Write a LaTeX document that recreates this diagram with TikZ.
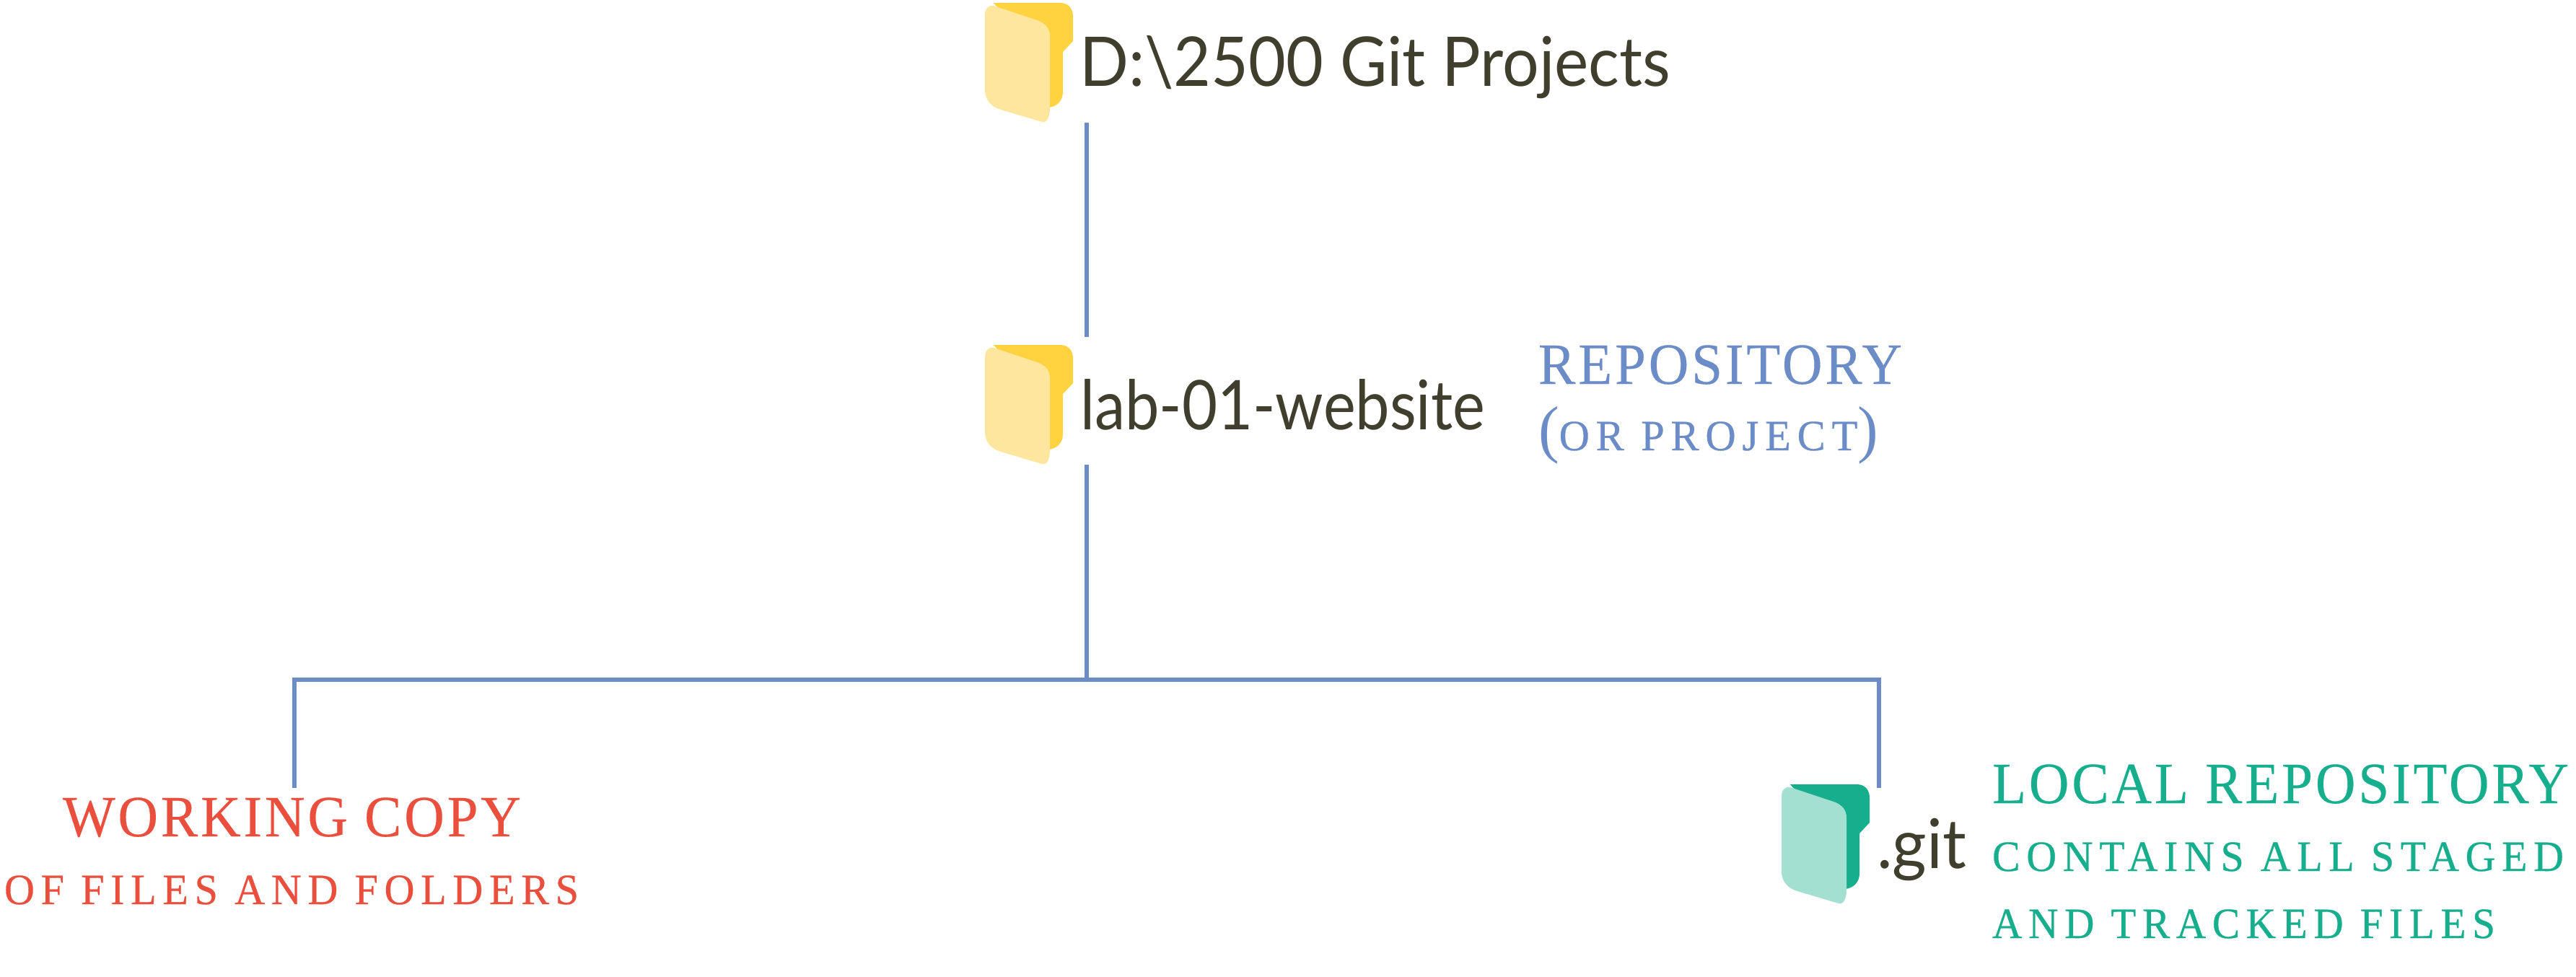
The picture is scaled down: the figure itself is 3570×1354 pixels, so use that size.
\documentclass[tikz,border=0pt]{standalone}
\usepackage{graphicx}
\usepackage{fontspec}
\setmainfont{Lato}
\newfontfamily\capserif[LetterSpace=5,FakeBold=0.25]{Liberation Serif}
\newfontfamily\smallserif[LetterSpace=15,FakeBold=0.5]{Liberation Serif}
\newfontfamily\parenserif{Liberation Serif}
\definecolor{lineblue}{HTML}{6C8CC8}
\definecolor{inkdark}{HTML}{403F2D}
\definecolor{redtext}{HTML}{EA4F3D}
\definecolor{tealdark}{HTML}{17AE8D}
\definecolor{teallight}{HTML}{A3E0D2}
\definecolor{yellowdark}{HTML}{FFD23F}
\definecolor{yellowlight}{HTML}{FFE69F}
\newcommand{\fitw}[2]{\resizebox{#1}{\height}{#2}}
\tikzset{
  x=0.5pt,y=-0.5pt,
  connector/.style={draw=lineblue,line width=2.75pt},
  label base/.style={anchor=base west,inner sep=0pt,outer sep=0pt},
  folder name/.style={label base,text=inkdark,font=\fontsize{47.5}{47.5}\selectfont},
  big caps/.style={label base,font=\capserif\fontsize{40.5}{40.5}\selectfont},
  small caps text/.style={label base,font=\smallserif\fontsize{30}{30}\selectfont},
  pics/folder/.style n args={2}{code={
    \fill[#1] (12,4) -- (104,4) .. controls (116,4) and (122,12) .. (122,23) -- (122,57) -- (108,72) -- (108,127)
      .. controls (108,140) and (100,147) .. (89,149) -- (60,60) -- cycle;
    \fill[#2] (0,20) .. controls (0,12) and (6,6) .. (12,8) -- (72,28)
      .. controls (84,32) and (90,40) .. (90,50) -- (90,150)
      .. controls (90,162) and (86,171) .. (79,169) -- (22,152)
      .. controls (8,148) and (0,138) .. (0,125) -- cycle;
  }}
}
\begin{document}
\begin{tikzpicture}
\useasboundingbox (0,0) rectangle (3570,1354);
\pic at (1365,0) {folder={yellowdark}{yellowlight}};
\pic at (1365,474) {folder={yellowdark}{yellowlight}};
\pic at (2469,1083) {folder={tealdark}{teallight}};
\node[folder name] (root) at (1496,120) {\fitw{819\dimexpr0.5pt\relax}{D:\textbackslash2500 Git Projects}};
\node[folder name] (lab) at (1497,595) {\fitw{561\dimexpr0.5pt\relax}{lab-01-website}};
\node[folder name] (git) at (2601,1203) {\fitw{124\dimexpr0.5pt\relax}{.git}};
\node[big caps,text=lineblue] (repo) at (2132,532) {\fitw{504\dimexpr0.5pt\relax}{REPOSITORY}};
\node[small caps text,text=lineblue] (orproj) at (2132,624) {\fitw{471\dimexpr0.5pt\relax}{\parenserif\fontsize{44}{44}\selectfont(\smallserif\fontsize{30}{30}\selectfont OR PROJECT\parenserif\fontsize{44}{44}\selectfont)}};
\node[big caps,text=tealdark] (localrepo) at (2761,1113) {\fitw{799\dimexpr0.5pt\relax}{LOCAL REPOSITORY}};
\node[small caps text,text=tealdark] (contains) at (2761,1207) {\fitw{792\dimexpr0.5pt\relax}{CONTAINS ALL STAGED}};
\node[small caps text,text=tealdark] (tracked) at (2761,1300) {\fitw{697\dimexpr0.5pt\relax}{AND TRACKED FILES}};
\node[big caps,text=redtext] (working) at (87,1159) {\fitw{635\dimexpr0.5pt\relax}{WORKING COPY}};
\node[small caps text,text=redtext] (offiles) at (6,1253) {\fitw{796\dimexpr0.5pt\relax}{OF FILES AND FOLDERS}};
\coordinate (rootout) at (1506,170);
\coordinate (labin) at (1506,467);
\coordinate (labout) at (1506,644);
\coordinate (junction) at (1506,942);
\coordinate (leftend) at (408,1092);
\coordinate (rightend) at (2604,1092);
\draw[connector] (rootout) -- (labin);
\draw[connector] (labout) -- (junction);
\draw[connector] (leftend) |- (junction) -| (rightend);
\end{tikzpicture}
\end{document}
